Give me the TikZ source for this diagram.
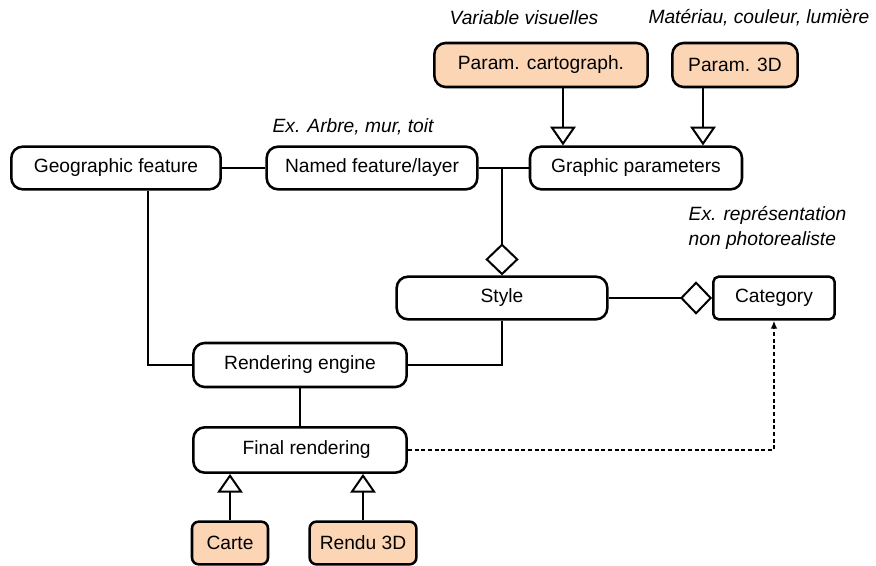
\documentclass[tikz,border=0pt]{standalone}
\usepackage{fontspec}
\setmainfont{Liberation Sans}
\usetikzlibrary{arrows.meta, calc, positioning}
\definecolor{peach}{RGB}{252,213,181}
\tikzset{
  box/.style={draw, line width=1.9pt, rounded corners=8.5pt, minimum height=32pt, inner sep=2pt},
  subbox/.style={box, fill=peach},
  note/.style={font=\fontsize{14.4}{18.8}\selectfont\itshape, align=left},
  link/.style={line width=1.5pt},
  inherit/.style={link, -{Triangle[open, length=14pt, width=19pt, line width=1.5pt]}},
  aggr/.style={link, {Diamond[open, length=24pt, width=25pt, line width=1.5pt]}-},
}

\begin{document}
\begin{tikzpicture}[x=0.75pt, y=-0.75pt, font=\fontsize{14.4}{17}\selectfont]
\useasboundingbox (0,0) rectangle (876,566);
% classes
\node[box, minimum width=157pt] (geo) at (116,168) {Geographic feature};
\node[box, minimum width=158pt] (named) at (372,168) {Named feature/layer};
\node[box, minimum width=159pt] (graphic) at (636,168) {Graphic parameters};
\node[subbox, minimum width=160pt, minimum height=33pt] (cartoparam) at (541,65) {Param. cartograph.};
\node[subbox, minimum width=94pt, minimum height=33pt] (param3d) at (735,65) {Param. 3D};
\node[box, minimum width=158pt] (style) at (502,298) {Style};
\node[box, rounded corners=4pt, minimum width=91pt] (category) at (774,298) {Category};
\node[box, minimum width=160pt, minimum height=33pt] (engine) at (300,365) {Rendering engine};
\node[box, minimum width=160pt, minimum height=34pt] (final) at (300,450) {\hspace{10pt}Final rendering};
\node[subbox, rounded corners=5pt, minimum width=57pt] (carte) at (230,543) {Carte};
\node[subbox, rounded corners=5pt, minimum width=80pt] (rendu) at (363,543) {Rendu 3D};

% notes
\node[note] (varnote) at (524,18) {Variable visuelles};
\node[note] (matnote) at (759,18) {Matériau, couleur, lumière};
\node[note] (exnote) at (353,127) {Ex. Arbre, mur, toit};
\node[note, anchor=west] (catnote) at (684,228) {Ex. représentation\\non photorealiste};

% links
\coordinate (junction) at (style.north |- named.east);
\draw[link] (geo) -- (named);
\draw[link] (named) -- (graphic);
\draw[aggr] (style.north) -- (junction);
\draw[inherit] ([xshift=16.5pt]cartoparam.south) -- ([xshift=16.5pt]cartoparam.south |- graphic.north);
\draw[inherit] ([xshift=-24pt]param3d.south) -- ([xshift=-24pt]param3d.south |- graphic.north);
\draw[aggr] (category.west) -- (style.east);
\draw[link] ([xshift=24pt]geo.south) |- (engine.west);
\draw[link] (style.south) |- (engine.east);
\draw[link] (engine) -- (final);
\draw[inherit] (carte.north) -- (carte.north |- final.south);
\draw[inherit] (rendu.north) -- (rendu.north |- final.south);
\draw[link, dash pattern=on 3pt off 2pt, -{Latex[length=6pt, width=5pt]}] (final.east) -| (category.south);
\end{tikzpicture}
\end{document}
